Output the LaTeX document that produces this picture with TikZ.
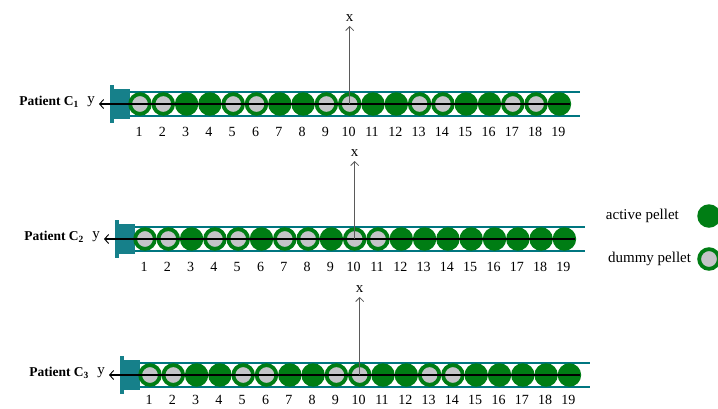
\documentclass[tikz,border=0pt]{standalone}
\usepackage{fontspec}
\setmainfont{Liberation Serif}
\usetikzlibrary{arrows.meta, positioning}
\definecolor{pelletgreen}{RGB}{0, 125, 20}
\definecolor{tubeteal}{RGB}{0, 118, 128}
\definecolor{plungerteal}{RGB}{22, 128, 138}
\definecolor{dummygray}{RGB}{196, 196, 200}
\definecolor{axisgray}{RGB}{90, 90, 90}
\tikzset{
    active/.style ={circle, fill=pelletgreen, inner sep=0pt, minimum size=23.5pt},
    dummy/.style  ={circle, draw=pelletgreen, line width=3.8pt, fill=dummygray,
                    inner sep=0pt, minimum size=19.7pt},
    tube/.style   ={draw=tubeteal, line width=1.8pt},
    plunger/.style={fill=plungerteal},
    yaxis/.style  ={draw=black, line width=1.1pt,
                    -{Straight Barb[length=4pt, width=9pt, line width=0.9pt]}},
    xaxis/.style  ={draw=axisgray, line width=0.9pt,
                    -{Straight Barb[length=4pt, width=8pt, line width=0.8pt]}},
    num/.style    ={font=\fontsize{14}{16}\selectfont, inner sep=0pt},
    axlbl/.style  ={font=\fontsize{15}{17}\selectfont, inner sep=0pt},
    patlbl/.style ={font=\fontsize{13.5}{16}\selectfont\bfseries, inner sep=0pt, anchor=east},
    leglbl/.style ={font=\fontsize{15}{18}\selectfont, inner sep=0pt}
}

\begin{document}
\begin{tikzpicture}[x=1pt, y=1pt]
  \useasboundingbox (0,0) rectangle (718,-408);

  % one syringe per patient: row / first pellet x / centre y / number drop / pellet order
  \foreach \r/\xo/\yc/\nd/\pat in {
      1/140/-104/28/{dummy,dummy,active,active,dummy,dummy,active,active,dummy,dummy,active,active,dummy,dummy,active,active,dummy,dummy,active},
      2/145/-239/28/{dummy,dummy,active,dummy,dummy,active,dummy,dummy,active,dummy,dummy,active,active,active,active,active,active,active,active},
      3/150/-375/25/{dummy,dummy,active,active,dummy,dummy,active,active,dummy,dummy,active,active,dummy,dummy,active,active,active,active,active}}
  {
    % barrel and plunger
    \draw[tube] ({\xo-10},{\yc+12}) -- ({\xo+440},{\yc+12});
    \draw[tube] ({\xo-10},{\yc-12}) -- ({\xo+440},{\yc-12});
    \fill[plunger] ({\xo-27},{\yc+15}) rectangle ({\xo-10},{\yc-15});
    \fill[plunger] ({\xo-30},{\yc+19}) rectangle ({\xo-26},{\yc-19});

    % pellets and their numbers
    \foreach \t [count=\k] in \pat {
      \node[\t] (c\r-p\k) at ({\xo+(\k-1)*23.3},\yc) {};
      \node[num] (c\r-n\k) at ({\xo+(\k-1)*23.3-1},{\yc-\nd}) {\k};
    }

    % axes
    \coordinate (c\r-yend) at ({\xo+430},\yc);
    \coordinate (c\r-ytip) at ({\xo-41},\yc);
    \draw[yaxis] (c\r-yend) -- (c\r-ytip);
    \node[axlbl, left=4pt of c\r-ytip, yshift=2pt] (c\r-y) {y};
    \node[patlbl, left=8pt of c\r-y.west] (c\r-lbl) {Patient C\textsubscript{\r}};

    \coordinate (c\r-xtop) at ({\xo+9*23.3},{\yc+78});
    \draw[xaxis] (c\r-p10.center) -- (c\r-xtop);
    \node[axlbl, above=4pt of c\r-xtop] (c\r-x) {x};
  }

  % legend
  \node[active] (legact) at (709,-216) {};
  \node[dummy]  (legdum) at (709,-259) {};
  \node[leglbl, left=18pt of legact] (legacttxt) {active pellet};
  \node[leglbl, left=6pt of legdum]  (legdumtxt) {dummy pellet};
\end{tikzpicture}
\end{document}
